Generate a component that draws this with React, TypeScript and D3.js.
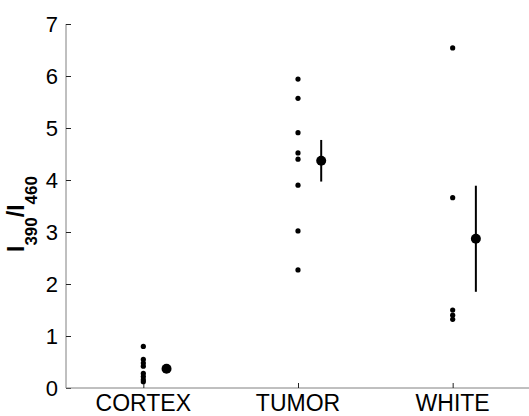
import { useEffect, useRef } from 'react';
import * as d3 from 'd3';

const categories = ['CORTEX', 'TUMOR', 'WHITE'];
const cortexValues = [0.8, 0.55, 0.48, 0.42, 0.28, 0.22, 0.16, 0.12];
const tumorValues = [5.94, 5.57, 4.91, 4.52, 4.4, 3.9, 3.02, 2.27];
const whiteValues = [6.54, 3.66, 1.5, 1.4, 1.32];
const means = [0.37, 4.37, 2.87];
const errors = [0, 0.4, 1.02];
const yTicks = [0, 1, 2, 3, 4, 5, 6, 7];

const width = 529;
const height = 416;

export default function App() {
  const svgRef = useRef<SVGSVGElement>(null);

  useEffect(() => {
    const svg = d3.select(svgRef.current);
    svg.selectAll('*').remove();

    const font = '"Liberation Sans", Arial, sans-serif';
    const x = d3.scaleLinear().domain([0.5, 3.5]).range([66, 530]);
    const y = d3.scaleLinear().domain([0, 7]).range([388, 24]);

    // axes
    const yAxis = svg.append('g')
      .attr('transform', `translate(${x(0.5)},0)`)
      .call(d3.axisRight(y).tickValues(yTicks).tickSize(5).tickFormat(() => ''));
    yAxis.select('.domain').attr('stroke', '#808080').attr('d', `M0,${y(7)}V${y(0)}`);
    yAxis.selectAll('.tick line').attr('stroke', '#222');

    const xAxis = svg.append('g')
      .attr('transform', `translate(0,${y(0)})`)
      .call(d3.axisTop(x).tickValues([1, 2, 3]).tickSize(5).tickFormat(() => ''));
    xAxis.select('.domain').attr('stroke', '#808080').attr('d', `M${x(0.5)},0H${x(3.5)}`);
    xAxis.selectAll('.tick line').attr('stroke', '#222');

    // tick labels
    svg.append('g').selectAll('text')
      .data(yTicks)
      .enter()
      .append('text')
      .attr('x', 58)
      .attr('y', d => y(d))
      .attr('dy', '0.35em')
      .attr('text-anchor', 'end')
      .attr('font-family', font)
      .attr('font-size', '22px')
      .text(d => d);

    svg.append('g').selectAll('text')
      .data(categories)
      .enter()
      .append('text')
      .attr('x', (_, i) => x(i + 1))
      .attr('y', 411)
      .attr('text-anchor', 'middle')
      .attr('font-family', font)
      .attr('font-size', '23px')
      .text(d => d);

    // y label
    const label = svg.append('text')
      .attr('transform', `translate(24,${y(0) - 136}) rotate(-90)`)
      .attr('font-family', font)
      .attr('font-weight', 'bold')
      .attr('font-size', '23px');
    label.append('tspan').text('I');
    label.append('tspan').attr('dy', 13).attr('font-size', '17px').text('390');
    label.append('tspan').attr('dy', -13).text('/I');
    label.append('tspan').attr('dy', 13).attr('font-size', '17px').text('460');

    // raw points
    const groups = [cortexValues, tumorValues, whiteValues];
    groups.forEach((vals, i) => {
      svg.append('g').selectAll('circle')
        .data(vals)
        .enter()
        .append('circle')
        .attr('cx', x(i + 1))
        .attr('cy', d => y(d))
        .attr('r', 2.6)
        .attr('fill', '#000');
    });

    // mean with error bar
    const offset = 0.15;
    svg.append('g').selectAll('line')
      .data(means)
      .enter()
      .append('line')
      .attr('x1', (_, i) => x(i + 1 + offset))
      .attr('x2', (_, i) => x(i + 1 + offset))
      .attr('y1', (d, i) => y(d + errors[i]))
      .attr('y2', (d, i) => y(d - errors[i]))
      .attr('stroke', '#000')
      .attr('stroke-width', 2);

    svg.append('g').selectAll('circle')
      .data(means)
      .enter()
      .append('circle')
      .attr('cx', (_, i) => x(i + 1 + offset))
      .attr('cy', d => y(d))
      .attr('r', 5)
      .attr('fill', '#000');
  }, []);

  return (
    <svg
      ref={svgRef}
      width={width}
      height={height}
      style={{ position: 'absolute', left: 0, top: 0, background: '#fff' }}
    />
  );
}
